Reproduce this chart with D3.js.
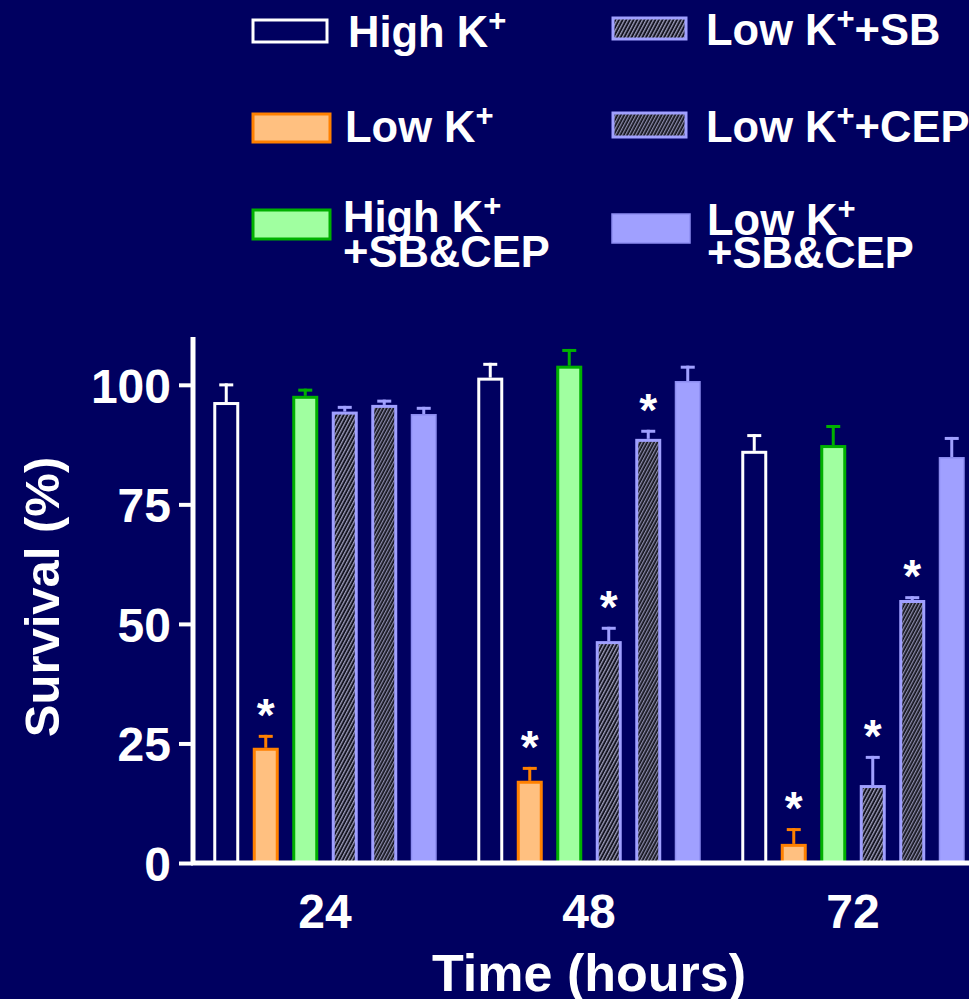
<!DOCTYPE html>
<html><head><meta charset="utf-8">
<script src="https://cdn.jsdelivr.net/npm/d3@7"></script>
<style>html,body{margin:0;padding:0;background:#000060;}svg{display:block;}</style>
</head><body>
<svg id="c" width="969" height="999"></svg>
<script>
const times = ["24", "48", "72"];
const seriesNames = ["High K+", "Low K+", "High K+ +SB&CEP", "Low K+ +SB", "Low K+ +CEP", "Low K+ +SB&CEP"];
const highK      = [96.4, 101.5, 86.2];
const lowK       = [24.1, 17.2, 4.0];
const highKSBCEP = [97.7, 104.0, 87.4];
const lowKSB     = [94.4, 46.4, 16.3];
const lowKCEP    = [95.8, 88.7, 55.0];
const lowKSBCEP  = [93.9, 100.8, 84.9];
const errHighK      = [3.9, 3.1, 3.5];
const errLowK       = [2.7, 2.9, 3.3];
const errHighKSBCEP = [1.5, 3.5, 4.2];
const errLowKSB     = [1.2, 3.0, 6.1];
const errLowKCEP    = [1.1, 1.9, 0.8];
const errLowKSBCEP  = [1.5, 3.2, 4.2];
const sigLowK    = [true, true, true];
const sigLowKSB  = [false, true, true];
const sigLowKCEP = [false, true, true];
const yTicks = [0, 25, 50, 75, 100];

const values = [highK, lowK, highKSBCEP, lowKSB, lowKCEP, lowKSBCEP];
const errs = [errHighK, errLowK, errHighKSBCEP, errLowKSB, errLowKCEP, errLowKSBCEP];
const sigs = [null, sigLowK, null, sigLowKSB, sigLowKCEP, null];

const styles = [
  {fill: "#000060", stroke: "#ffffff", sw: 3, err: "#ffffff"},
  {fill: "#ffc080", stroke: "#ff8000", sw: 3, err: "#ff8000"},
  {fill: "#a0ffa0", stroke: "#00b000", sw: 3, err: "#00b000"},
  {fill: "url(#hatchA)", stroke: "#a0a0ff", sw: 3, err: "#a0a0ff"},
  {fill: "url(#hatchB)", stroke: "#a0a0ff", sw: 3, err: "#a0a0ff"},
  {fill: "#a0a0ff", stroke: "#8c8cf0", sw: 1.5, err: "#a0a0ff"}
];

const svg = d3.select("#c");
svg.append("rect").attr("width", 969).attr("height", 999).attr("fill", "#000060");

const defs = svg.append("defs");
function hatch(id, bg, line, w) {
  const p = defs.append("pattern").attr("id", id).attr("patternUnits", "userSpaceOnUse")
    .attr("width", w).attr("height", 6).attr("patternTransform", "rotate(28)");
  p.append("rect").attr("width", w).attr("height", 6).attr("fill", bg);
  p.append("rect").attr("x", 0).attr("width", 1.3).attr("height", 6).attr("fill", line);
}
hatch("hatchA", "#141420", "#9a9ab8", 3.2);
hatch("hatchB", "#101018", "#8c8cac", 3.0);

const font = "'Liberation Sans', Arial, sans-serif";

const y = d3.scaleLinear().domain([0, 110]).range([863, 337]);
const x0 = d3.scaleBand().domain(times).range([193, 985]).padding(0);
const x1 = d3.scaleBand().domain(d3.range(seriesNames.length)).range([0, x0.bandwidth()])
  .paddingInner(0.342).paddingOuter(0.513);

const g = svg.append("g");
values.forEach((vals, s) => {
  const st = styles[s];
  times.forEach((t, i) => {
    const bx = x0(t) + x1(s);
    const bw = x1.bandwidth();
    const inset = st.sw / 2;
    g.append("rect")
      .attr("x", bx + inset).attr("y", y(vals[i]) + inset)
      .attr("width", bw - st.sw).attr("height", y(0) - y(vals[i]) - inset)
      .attr("fill", st.fill).attr("stroke", st.stroke).attr("stroke-width", st.sw);
    const cx = bx + bw / 2;
    const top = y(vals[i] + errs[s][i]);
    g.append("line").attr("x1", cx).attr("x2", cx).attr("y1", y(vals[i])).attr("y2", top)
      .attr("stroke", st.err).attr("stroke-width", 3);
    g.append("line").attr("x1", cx - 7).attr("x2", cx + 7).attr("y1", top + 1.5).attr("y2", top + 1.5)
      .attr("stroke", st.err).attr("stroke-width", 3);
    if (sigs[s] && sigs[s][i]) {
      g.append("text").attr("x", cx).attr("y", top - 4)
        .attr("text-anchor", "middle").attr("fill", "#fff")
        .attr("font-family", font).attr("font-weight", "bold").attr("font-size", 46)
        .text("*");
    }
  });
});

// axes
const yAxis = svg.append("g").attr("transform", "translate(193,0)")
  .call(d3.axisLeft(y).tickValues(yTicks).tickSize(14).tickPadding(8));
yAxis.select(".domain").attr("d", `M0,${y(110)}V${y(0)}`).attr("stroke", "#fff").attr("stroke-width", 5);
yAxis.selectAll(".tick line").attr("stroke", "#fff").attr("stroke-width", 4);
yAxis.selectAll(".tick text").attr("fill", "#fff").attr("font-family", font)
  .attr("font-weight", "bold").attr("font-size", 48).attr("dy", "0.36em");

const xAxis = svg.append("g").attr("transform", "translate(0,863)")
  .call(d3.axisBottom(x0).tickSize(0).tickPadding(30));
xAxis.select(".domain").attr("d", "M191,0H975").attr("stroke", "#fff").attr("stroke-width", 5);
xAxis.selectAll(".tick text").attr("fill", "#fff").attr("font-family", font)
  .attr("font-weight", "bold").attr("font-size", 48).attr("dy", "0.72em");

svg.append("text").attr("transform", "translate(59,597) rotate(-90)")
  .attr("text-anchor", "middle").attr("fill", "#fff").attr("font-family", font)
  .attr("font-weight", "bold").attr("font-size", 49).text("Survival (%)");
svg.append("text").attr("x", 589).attr("y", 991)
  .attr("text-anchor", "middle").attr("fill", "#fff").attr("font-family", font)
  .attr("font-weight", "bold").attr("font-size", 52).text("Time (hours)");

// legend
const legendItems = [
  {s: 0, rx: 253, ry: 20, rw: 74, rh: 22, tx: 348, lines: [["High K", "+", ""]], by: [47]},
  {s: 1, rx: 253, ry: 114, rw: 77, rh: 28, tx: 345, lines: [["Low K", "+", ""]], by: [142]},
  {s: 2, rx: 253, ry: 210, rw: 77, rh: 29, tx: 343, lines: [["High K", "+", ""], ["+SB&CEP", "", ""]], by: [232, 267]},
  {s: 3, rx: 613, ry: 18, rw: 73, rh: 21, tx: 706, lines: [["Low K", "+", "+SB"]], by: [45]},
  {s: 4, rx: 613, ry: 113, rw: 73, rh: 24, tx: 706, lines: [["Low K", "+", "+CEP"]], by: [142]},
  {s: 5, rx: 612, ry: 214, rw: 78, rh: 29, tx: 707, lines: [["Low K", "+", ""], ["+SB&CEP", "", ""]], by: [235, 268]}
];
const lg = svg.append("g");
legendItems.forEach(it => {
  const st = styles[it.s];
  lg.append("rect").attr("x", it.rx).attr("y", it.ry).attr("width", it.rw).attr("height", it.rh)
    .attr("fill", st.fill).attr("stroke", st.stroke).attr("stroke-width", st.sw);
  it.lines.forEach((ln, k) => {
    const t = lg.append("text").attr("x", it.tx).attr("y", it.by[k]).attr("fill", "#fff")
      .attr("font-family", font).attr("font-weight", "bold").attr("font-size", 43.5);
    t.append("tspan").text(ln[0]);
    if (ln[1]) t.append("tspan").attr("font-size", 31).attr("dy", -16).text(ln[1]);
    if (ln[2]) t.append("tspan").attr("dy", 16).text(ln[2]);
  });
});
</script>
</body></html>
